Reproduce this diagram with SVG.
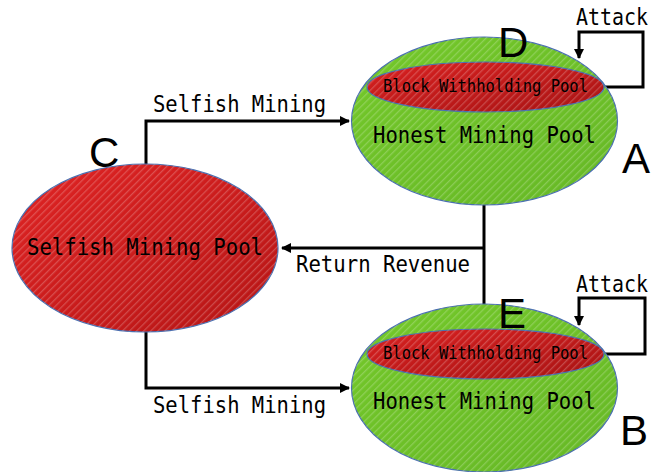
<svg xmlns="http://www.w3.org/2000/svg" width="662" height="472" viewBox="0 0 662 472">
<style>
.mono{font-family:"DejaVu Sans Mono","Liberation Mono",monospace;fill:#000}
.big{font-family:"Liberation Sans","DejaVu Sans",sans-serif;font-size:42px;fill:#000}
.conn{fill:none;stroke:#000;stroke-width:3}
.edge{stroke:#4a6fb0;stroke-width:1.2}
</style>
<defs>
<pattern id="stripes" width="5" height="5" patternUnits="userSpaceOnUse" patternTransform="rotate(-45)">
<rect width="5" height="1.3" fill="#ffffff" fill-opacity="0.22"/>
</pattern>
<linearGradient id="redG" x1="0" y1="0" x2="1" y2="1">
<stop offset="0" stop-color="#e02424"/>
<stop offset="1" stop-color="#b51515"/>
</linearGradient>
<linearGradient id="redG2" x1="0" y1="0" x2="1" y2="1">
<stop offset="0" stop-color="#d82020"/>
<stop offset="1" stop-color="#a81414"/>
</linearGradient>
<linearGradient id="greenG" x1="0" y1="0" x2="1" y2="1">
<stop offset="0" stop-color="#74c82a"/>
<stop offset="1" stop-color="#66b826"/>
</linearGradient>
<marker id="arr" markerWidth="10" markerHeight="10" refX="9" refY="5" orient="auto" markerUnits="userSpaceOnUse">
<path d="M0,0 L10,5 L0,10 Z" fill="#000"/>
</marker>
</defs>

<g id="connectors">
<path class="conn" d="M146,165 V121 H349" marker-end="url(#arr)"/>
<path class="conn" d="M146,332 V388 H349" marker-end="url(#arr)"/>
<path class="conn" d="M484,205 V304"/>
<path class="conn" d="M484,248 H282" marker-end="url(#arr)"/>
<path class="conn" d="M604,87 H643 V32 H579 V58" marker-end="url(#arr)"/>
<path class="conn" d="M604,354 H645 V298 H579 V325" marker-end="url(#arr)"/>
</g>

<g id="nodeC">
<ellipse class="edge" cx="145" cy="248" rx="133" ry="84" fill="url(#redG)"/>
<ellipse cx="145" cy="248" rx="133" ry="84" fill="url(#stripes)"/>
<text class="mono" x="27" y="255" font-size="23" textLength="236" lengthAdjust="spacingAndGlyphs">Selfish Mining Pool</text>
<text class="big" x="89" y="167">C</text>
</g>

<g id="nodeA">
<ellipse class="edge" cx="484.5" cy="121" rx="133" ry="84" fill="url(#greenG)"/>
<ellipse cx="484.5" cy="121" rx="133" ry="84" fill="url(#stripes)"/>
<text class="mono" x="373" y="143" font-size="23" textLength="223" lengthAdjust="spacingAndGlyphs">Honest Mining Pool</text>
<text class="big" x="622" y="173">A</text>
</g>

<g id="nodeD">
<ellipse class="edge" cx="485.5" cy="87" rx="118.5" ry="25" fill="url(#redG2)"/>
<ellipse cx="485.5" cy="87" rx="118.5" ry="25" fill="url(#stripes)"/>
<text class="mono" x="383" y="92" font-size="17" textLength="205" lengthAdjust="spacingAndGlyphs">Block Withholding Pool</text>
<text class="big" x="498" y="57">D</text>
</g>

<g id="nodeB">
<ellipse class="edge" cx="484.5" cy="388" rx="133" ry="84" fill="url(#greenG)"/>
<ellipse cx="484.5" cy="388" rx="133" ry="84" fill="url(#stripes)"/>
<text class="mono" x="373" y="409" font-size="23" textLength="223" lengthAdjust="spacingAndGlyphs">Honest Mining Pool</text>
<text class="big" x="620" y="445">B</text>
</g>

<g id="nodeE">
<ellipse class="edge" cx="485.5" cy="354" rx="118.5" ry="25" fill="url(#redG2)"/>
<ellipse cx="485.5" cy="354" rx="118.5" ry="25" fill="url(#stripes)"/>
<text class="mono" x="383" y="359" font-size="17" textLength="205" lengthAdjust="spacingAndGlyphs">Block Withholding Pool</text>
<text class="big" x="498" y="328">E</text>
</g>

<g id="labels">
<text class="mono" x="153" y="112" font-size="23" textLength="173" lengthAdjust="spacingAndGlyphs">Selfish Mining</text>
<text class="mono" x="153" y="413" font-size="23" textLength="173" lengthAdjust="spacingAndGlyphs">Selfish Mining</text>
<text class="mono" x="296" y="272" font-size="23" textLength="174" lengthAdjust="spacingAndGlyphs">Return Revenue</text>
<text class="mono" x="576" y="25" font-size="23" textLength="72" lengthAdjust="spacingAndGlyphs">Attack</text>
<text class="mono" x="576" y="292" font-size="23" textLength="72" lengthAdjust="spacingAndGlyphs">Attack</text>
</g>
</svg>
